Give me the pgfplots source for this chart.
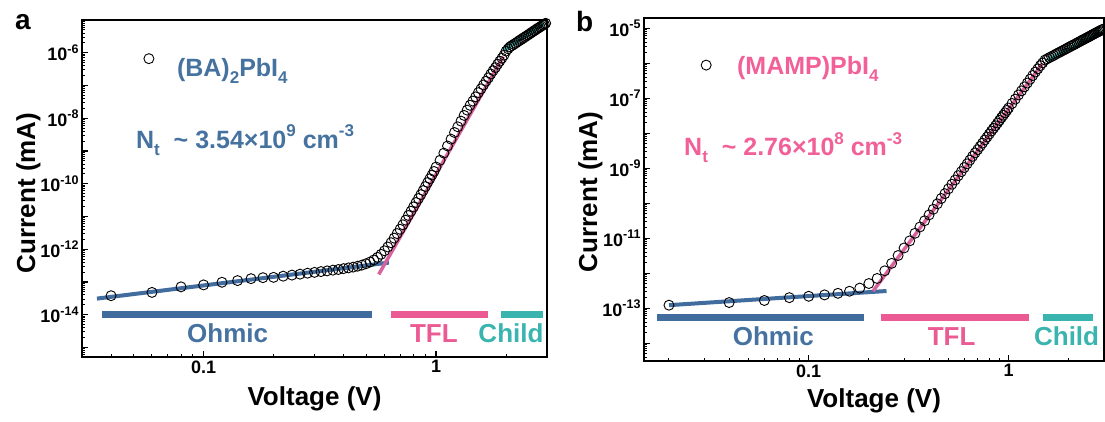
\documentclass[border=0pt]{standalone}
\usepackage{fontspec}
\setmainfont{Liberation Sans}
\usepackage{pgfplots}
\pgfplotsset{compat=1.18}
\definecolor{myblue}{RGB}{64,108,158}
\definecolor{mypink}{RGB}{236,90,148}
\definecolor{pinkfit}{RGB}{216,98,155}
\definecolor{myteal}{RGB}{58,180,174}
\definecolor{bluetext}{RGB}{70,114,160}
\definecolor{pinktext}{RGB}{242,96,152}
\newcommand{\fs}[1]{\fontsize{#1}{#1}\selectfont}
\newcommand{\lbl}[1]{10\raisebox{0.42em}{\fs{12.5}#1}}
\newcommand{\mysub}[1]{\raisebox{-0.28em}{\fs{17}#1}}
\newcommand{\mysup}[1]{\raisebox{0.45em}{\fs{17}#1}}
\tikzset{
  mydata/.style={only marks, mark=o, mark size=5pt, mark options={line width=0.9pt, black}},
  mybar/.style={line width=6.5pt, line cap=butt},
}
\pgfplotsset{
  mypanel/.style={
    scale only axis,
    axis line style={line width=1.8pt},
    xtick pos=bottom, ytick pos=left, tick align=inside,
    major tick length=6pt, minor tick length=3.5pt,
    every major tick/.append style={line width=1.3pt, black},
    every minor tick/.append style={line width=1pt, black},
    tick label style={font=\fs{18}\bfseries},
    xtick={0.1,1}, xticklabels={0.1,1},
    minor xtick={0.02,0.03,0.04,0.05,0.06,0.07,0.08,0.09,0.2,0.3,0.4,0.5,0.6,0.7,0.8,0.9,2,3},
    xlabel={Voltage (V)}, ylabel={Current (mA)},
    xlabel style={font=\fs{26}\bfseries, anchor=base},
    ylabel style={font=\fs{26}\bfseries, anchor=base},
  },
}
\begin{document}
\begin{tikzpicture}
\useasboundingbox (0,0) rectangle (1105pt,421pt);
\node[anchor=base west, font=\fs{28}\bfseries, inner sep=0pt] at (15pt,391pt) {a};
\node[anchor=base west, font=\fs{28}\bfseries, inner sep=0pt] at (576pt,389pt) {b};
% ---------------- panel a
\begin{axis}[xmode=log, ymode=log, mypanel, at={(82pt,64pt)}, anchor=south west, width=465pt, height=337pt,
  xmin=0.03, xmax=3, ymin=5.1e-16, ymax=1e-5,
  ytick={1e-15,1e-14,1e-13,1e-12,1e-11,1e-10,1e-9,1e-8,1e-7,1e-6},
  yticklabels={{},{\lbl{-14}},{},{\lbl{-12}},{},{\lbl{-10}},{},{\lbl{-8}},{},{\lbl{-6}}},
  minor ytick={6e-16,7e-16,8e-16,9e-16,
    2e-15,3e-15,4e-15,5e-15,6e-15,7e-15,8e-15,9e-15,
    2e-14,3e-14,4e-14,5e-14,6e-14,7e-14,8e-14,9e-14,
    2e-13,3e-13,4e-13,5e-13,6e-13,7e-13,8e-13,9e-13,
    2e-12,3e-12,4e-12,5e-12,6e-12,7e-12,8e-12,9e-12,
    2e-11,3e-11,4e-11,5e-11,6e-11,7e-11,8e-11,9e-11,
    2e-10,3e-10,4e-10,5e-10,6e-10,7e-10,8e-10,9e-10,
    2e-9,3e-9,4e-9,5e-9,6e-9,7e-9,8e-9,9e-9,
    2e-8,3e-8,4e-8,5e-8,6e-8,7e-8,8e-8,9e-8,
    2e-7,3e-7,4e-7,5e-7,6e-7,7e-7,8e-7,9e-7,
    2e-6,3e-6,4e-6,5e-6,6e-6,7e-6,8e-6,9e-6},
  xlabel style={at={(axis description cs:0.5,-0.145)}},
  ylabel style={at={(axis description cs:-0.101,0.487)}},
]
\addplot[mydata] coordinates {
(0.04,3.80e-14) (0.06,4.79e-14) (0.08,7.08e-14) (0.10,8.13e-14) (0.12,9.77e-14) (0.14,1.10e-13)
(0.16,1.26e-13) (0.18,1.35e-13) (0.20,1.38e-13) (0.22,1.50e-13) (0.24,1.62e-13) (0.26,1.73e-13)
(0.28,1.85e-13) (0.30,1.96e-13) (0.32,2.07e-13) (0.34,2.18e-13) (0.36,2.29e-13) (0.38,2.40e-13)
(0.40,2.55e-13) (0.42,2.69e-13) (0.44,2.84e-13) (0.46,3.03e-13) (0.48,3.27e-13) (0.50,3.61e-13)
(0.52,4.06e-13) (0.54,4.70e-13) (0.56,5.65e-13) (0.58,6.98e-13) (0.60,8.95e-13) (0.62,1.17e-12)
(0.64,1.58e-12) (0.66,2.18e-12) (0.68,3.00e-12) (0.70,4.06e-12) (0.72,5.57e-12) (0.74,7.69e-12)
(0.76,1.07e-11) (0.78,1.44e-11) (0.80,1.96e-11) (0.82,2.67e-11) (0.84,3.53e-11) (0.86,4.65e-11)
(0.88,6.18e-11) (0.90,8.22e-11) (0.92,1.09e-10) (0.94,1.42e-10) (0.96,1.83e-10) (0.98,2.37e-10)
(1.00,3.24e-10) (1.04,5.20e-10) (1.08,8.59e-10) (1.12,1.42e-9) (1.16,2.29e-9) (1.20,3.67e-9)
(1.24,5.47e-9) (1.28,8.17e-9) (1.32,1.22e-8) (1.36,1.77e-8) (1.40,2.48e-8) (1.44,3.34e-8)
(1.48,4.50e-8) (1.52,6.05e-8) (1.56,7.91e-8) (1.60,1.04e-7) (1.64,1.35e-7) (1.68,1.72e-7)
(1.72,2.24e-7) (1.76,2.85e-7) (1.80,3.52e-7) (1.84,4.48e-7) (1.88,5.53e-7) (1.92,6.82e-7)
(1.96,8.43e-7) (2.00,1.12e-6) (2.04,1.32e-6) (2.08,1.52e-6) (2.12,1.66e-6) (2.16,1.81e-6)
(2.20,1.97e-6) (2.24,2.15e-6) (2.28,2.34e-6) (2.32,2.53e-6) (2.36,2.75e-6) (2.40,2.97e-6)
(2.44,3.21e-6) (2.48,3.46e-6) (2.52,3.73e-6) (2.56,4.03e-6) (2.60,4.35e-6) (2.64,4.68e-6)
(2.68,5.00e-6) (2.72,5.40e-6) (2.76,5.75e-6) (2.80,6.14e-6) (2.84,6.55e-6) (2.88,6.98e-6)
(2.92,7.46e-6) (2.96,7.96e-6)
};
\addplot[myblue, line width=4pt, no marks] coordinates {(0.0348,3.1e-14) (0.627,3.9e-13)};
\addplot[pinkfit, line width=3.5pt, no marks] coordinates {(0.567,1.7e-13) (1.945,7.6e-7)};
\addplot[myteal, line width=4pt, no marks] coordinates {(1.95,1.2e-6) (2.92,7.9e-6)};
\addplot[mybar, myblue, no marks] coordinates {(0.0366,1e-14) (0.531,1e-14)};
\addplot[mybar, mypink, no marks] coordinates {(0.641,1e-14) (1.667,1e-14)};
\addplot[mybar, myteal, no marks] coordinates {(1.895,1e-14) (2.88,1e-14)};
\addplot[mydata] coordinates {(0.0582,6.6e-7)};
\node[anchor=base, text=bluetext, font=\fs{26}\bfseries] at (axis cs:0.127,1.38e-15) {Ohmic};
\node[anchor=base, text=mypink, font=\fs{26}\bfseries] at (axis cs:0.978,1.38e-15) {TFL};
\node[anchor=base, text=myteal, font=\fs{26}\bfseries] at (axis cs:2.10,1.38e-15) {Child};
\node[anchor=base west, inner sep=0pt, text=bluetext, font=\fs{25}\bfseries] at (rel axis cs:0.204,0.831) {(BA)\mysub{2}PbI\mysub{4}};
\node[anchor=base west, inner sep=0pt, text=bluetext, font=\fs{25}\bfseries] at (rel axis cs:0.116,0.620) {N\mysub{t}\ \ \textasciitilde\ 3.54×10\mysup{9} cm\mysup{-3}};
\end{axis}
% ---------------- panel b
\begin{axis}[xmode=log, ymode=log, mypanel, at={(644pt,60pt)}, anchor=south west, width=460pt, height=343pt,
  xmin=0.015, xmax=3, ymin=3.1e-15, ymax=1.95e-5,
  ytick={1e-14,1e-13,1e-12,1e-11,1e-10,1e-9,1e-8,1e-7,1e-6,1e-5},
  yticklabels={{},{\lbl{-13}},{},{\lbl{-11}},{},{\lbl{-9}},{},{\lbl{-7}},{},{\lbl{-5}}},
  minor ytick={4e-15,5e-15,6e-15,7e-15,8e-15,9e-15,
    2e-14,3e-14,4e-14,5e-14,6e-14,7e-14,8e-14,9e-14,
    2e-13,3e-13,4e-13,5e-13,6e-13,7e-13,8e-13,9e-13,
    2e-12,3e-12,4e-12,5e-12,6e-12,7e-12,8e-12,9e-12,
    2e-11,3e-11,4e-11,5e-11,6e-11,7e-11,8e-11,9e-11,
    2e-10,3e-10,4e-10,5e-10,6e-10,7e-10,8e-10,9e-10,
    2e-9,3e-9,4e-9,5e-9,6e-9,7e-9,8e-9,9e-9,
    2e-8,3e-8,4e-8,5e-8,6e-8,7e-8,8e-8,9e-8,
    2e-7,3e-7,4e-7,5e-7,6e-7,7e-7,8e-7,9e-7,
    2e-6,3e-6,4e-6,5e-6,6e-6,7e-6,8e-6,9e-6},
  xlabel style={at={(axis description cs:0.5,-0.137)}},
  ylabel style={at={(axis description cs:-0.102,0.493)}},
]
\addplot[mydata] coordinates {
(0.02,1.22e-13) (0.04,1.45e-13) (0.06,1.66e-13) (0.08,2.00e-13) (0.10,2.19e-13) (0.12,2.40e-13)
(0.14,2.66e-13) (0.16,3.05e-13) (0.18,3.75e-13) (0.20,5.07e-13) (0.22,7.08e-13) (0.24,1.17e-12)
(0.26,1.91e-12) (0.28,3.20e-12) (0.30,5.25e-12) (0.32,8.38e-12) (0.34,1.38e-11) (0.36,2.09e-11)
(0.38,3.15e-11) (0.40,4.63e-11) (0.42,6.71e-11) (0.44,9.57e-11) (0.46,1.36e-10) (0.48,1.87e-10)
(0.50,2.57e-10) (0.52,3.48e-10) (0.54,4.60e-10) (0.56,6.11e-10) (0.58,7.96e-10) (0.60,1.04e-9)
(0.62,1.33e-9) (0.64,1.70e-9) (0.66,2.18e-9) (0.68,2.74e-9) (0.70,3.39e-9) (0.72,4.19e-9)
(0.74,5.18e-9) (0.76,6.40e-9) (0.78,7.78e-9) (0.80,9.44e-9) (0.82,1.15e-8) (0.84,1.37e-8)
(0.86,1.63e-8) (0.88,1.95e-8) (0.90,2.32e-8) (0.92,2.77e-8) (0.94,3.25e-8) (0.96,3.81e-8)
(0.98,4.47e-8) (1.00,5.24e-8) (1.04,7.06e-8) (1.08,9.38e-8) (1.12,1.24e-7) (1.16,1.62e-7)
(1.20,2.11e-7) (1.24,2.70e-7) (1.28,3.47e-7) (1.32,4.44e-7) (1.36,5.58e-7) (1.40,6.90e-7)
(1.44,8.53e-7) (1.48,1.02e-6) (1.52,1.23e-6) (1.56,1.33e-6) (1.60,1.44e-6) (1.64,1.55e-6)
(1.68,1.66e-6) (1.72,1.80e-6) (1.76,1.93e-6) (1.80,2.05e-6) (1.84,2.20e-6) (1.88,2.34e-6)
(1.92,2.49e-6) (1.96,2.66e-6) (2.00,2.83e-6) (2.04,3.02e-6) (2.08,3.19e-6) (2.12,3.37e-6)
(2.16,3.56e-6) (2.20,3.78e-6) (2.24,3.99e-6) (2.28,4.22e-6) (2.32,4.44e-6) (2.36,4.69e-6)
(2.40,4.92e-6) (2.44,5.18e-6) (2.48,5.43e-6) (2.52,5.70e-6) (2.56,5.98e-6) (2.60,6.30e-6)
(2.64,6.61e-6) (2.68,6.89e-6) (2.72,7.23e-6) (2.76,7.55e-6) (2.80,7.87e-6) (2.84,8.20e-6)
(2.88,8.55e-6) (2.92,8.93e-6) (2.96,9.31e-6)
};
\addplot[myblue, line width=4pt, no marks] coordinates {(0.02,1.22e-13) (0.245,3.1e-13)};
\addplot[pinkfit, line width=3.5pt, no marks] coordinates {(0.21,3.1e-13) (1.48,9.8e-7)};
\addplot[myteal, line width=4pt, no marks] coordinates {(1.57,1.22e-6) (2.91,7.8e-6)};
\addplot[mybar, myblue, no marks] coordinates {(0.0174,5.5e-14) (0.188,5.5e-14)};
\addplot[mybar, mypink, no marks] coordinates {(0.229,5.5e-14) (1.26,5.5e-14)};
\addplot[mybar, myteal, no marks] coordinates {(1.48,5.5e-14) (2.63,5.5e-14)};
\addplot[mydata] coordinates {(0.0307,8.8e-7)};
\node[anchor=base, text=bluetext, font=\fs{26}\bfseries] at (axis cs:0.0665,8.7e-15) {Ohmic};
\node[anchor=base, text=mypink, font=\fs{26}\bfseries] at (axis cs:0.519,8.7e-15) {TFL};
\node[anchor=base, text=myteal, font=\fs{26}\bfseries] at (axis cs:1.95,8.7e-15) {Child};
\node[anchor=base west, inner sep=0pt, text=pinktext, font=\fs{25}\bfseries] at (rel axis cs:0.202,0.834) {(MAMP)PbI\mysub{4}};
\node[anchor=base west, inner sep=0pt, text=pinktext, font=\fs{25}\bfseries] at (rel axis cs:0.087,0.598) {N\mysub{t}\ \ \textasciitilde\ 2.76×10\mysup{8} cm\mysup{-3}};
\end{axis}
\end{tikzpicture}
\end{document}
